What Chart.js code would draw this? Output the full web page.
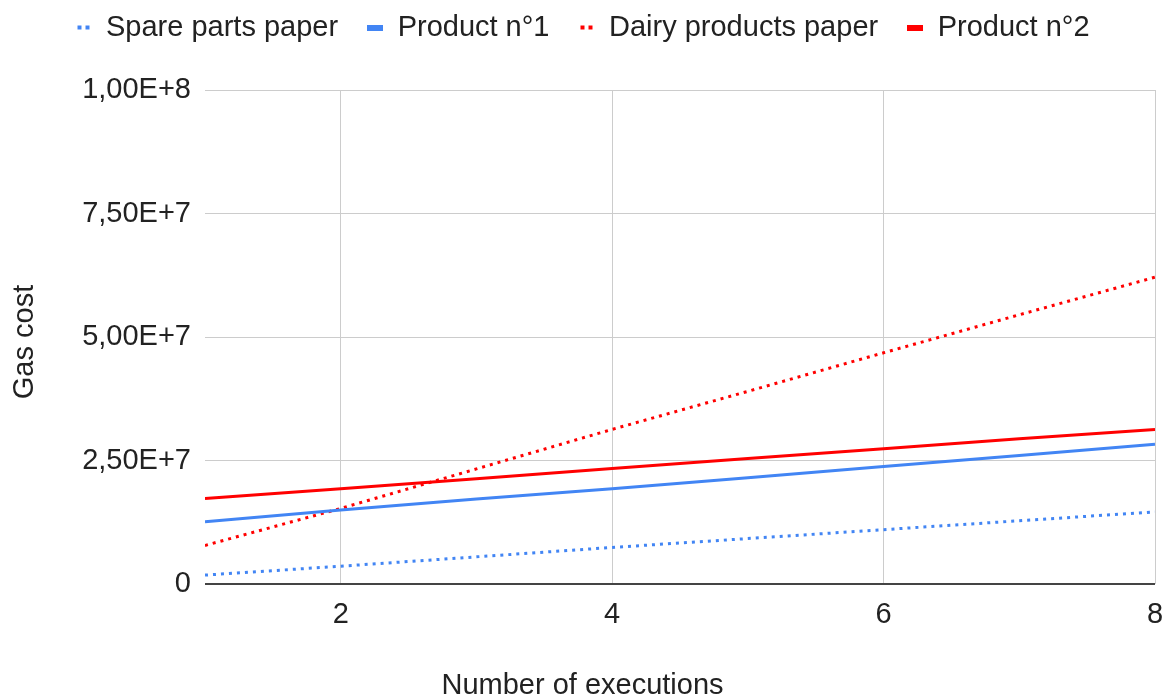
<!DOCTYPE html>
<html>
<head>
<meta charset="utf-8">
<script src="https://cdn.jsdelivr.net/npm/chart.js@4/dist/chart.umd.min.js"></script>
<style>
  body { margin: 0; background: #fff; }
  #wrap { width: 1165px; height: 697px; }
</style>
</head>
<body>
<div id="wrap"><canvas id="chart"></canvas></div>
<script>
// Gas cost per number of executions
const executions = [1, 2, 3, 4, 5, 6, 7, 8];
const sparePartsPaper = [1.8e6, 3.6e6, 5.5e6, 7.4e6, 9.2e6, 1.10e7, 1.28e7, 1.46e7];
const product1 = [1.26e7, 1.50e7, 1.72e7, 1.93e7, 2.15e7, 2.38e7, 2.60e7, 2.83e7];
const dairyProductsPaper = [7.8e6, 1.53e7, 2.33e7, 3.13e7, 3.90e7, 4.68e7, 5.45e7, 6.21e7];
const product2 = [1.73e7, 1.93e7, 2.13e7, 2.34e7, 2.54e7, 2.74e7, 2.94e7, 3.13e7];

const xTicks = [2, 4, 6, 8];
const yTickLabels = ['0', '2,50E+7', '5,00E+7', '7,50E+7', '1,00E+8'];

const BLUE = '#4285f4';
const RED = '#ff0000';
const FONT = "'Liberation Sans', Arial, sans-serif";

// small legend markers: dotted = two squares, solid = short bar
function marker(color, dotted) {
    const c = document.createElement('canvas');
    c.width = 16;
    c.height = 6;
    const ctx = c.getContext('2d');
    ctx.fillStyle = color;
    if (dotted) {
        ctx.fillRect(2, 1, 4, 4);
        ctx.fillRect(10, 1, 4, 4);
    } else {
        ctx.fillRect(0, 0, 16, 6);
    }
    return c;
}

function series(label, values, color, dotted) {
    return {
        label: label,
        data: values.map((v, i) => ({ x: executions[i], y: v })),
        borderColor: color,
        backgroundColor: color,
        borderWidth: 3,
        borderDash: dotted ? [3, 5] : [],
        borderCapStyle: 'butt',
        pointRadius: 0,
        pointStyle: marker(color, dotted),
        tension: 0
    };
}

// push the plot area down below the legend
const legendMargin = {
    id: 'legendMargin',
    beforeInit(chart) {
        const fit = chart.legend.fit;
        chart.legend.fit = function () {
            fit.bind(chart.legend)();
            this.height += 38;
        };
    }
};

new Chart(document.getElementById('chart'), {
    type: 'line',
    data: {
        datasets: [
            series('Spare parts paper', sparePartsPaper, BLUE, true),
            series('Product n°1', product1, BLUE, false),
            series('Dairy products paper', dairyProductsPaper, RED, true),
            series('Product n°2', product2, RED, false)
        ]
    },
    options: {
        responsive: true,
        maintainAspectRatio: false,
        animation: false,
        layout: { padding: { top: -16, right: 10, bottom: -3, left: 10 } },
        plugins: {
            legend: {
                position: 'top',
                labels: {
                    usePointStyle: true,
                    pointStyleWidth: 16,
                    padding: 29,
                    color: '#222',
                    font: { family: FONT, size: 29 }
                }
            },
            title: {
                display: true,
                position: 'bottom',
                text: 'Number of executions',
                color: '#222',
                font: { family: FONT, size: 29, weight: 'normal', lineHeight: 1 },
                padding: { top: 40, bottom: 0 }
            },
            subtitle: {
                display: true,
                position: 'left',
                text: 'Gas cost',
                color: '#222',
                font: { family: FONT, size: 29, lineHeight: 1 },
                padding: { top: 0, bottom: 17 }
            },
            tooltip: { enabled: false }
        },
        scales: {
            x: {
                type: 'linear',
                min: 1,
                max: 8,
                afterBuildTicks: (scale) => {
                    scale.ticks = xTicks.map(v => ({ value: v }));
                },
                afterFit: (scale) => {
                    scale.height = 47;
                    scale.paddingRight = 0;
                },
                grid: { color: '#cccccc', lineWidth: 1, drawTicks: false },
                border: { display: false },
                ticks: {
                    padding: 14,
                    color: '#222',
                    font: { family: FONT, size: 29 },
                    maxRotation: 0
                }
            },
            y: {
                min: 0,
                max: 1e8,
                afterFit: (scale) => { scale.width = 149; },
                grid: {
                    color: (ctx) => ctx.tick && ctx.tick.value === 0 ? '#444444' : '#cccccc',
                    lineWidth: (ctx) => ctx.tick && ctx.tick.value === 0 ? 2 : 1,
                    drawTicks: false
                },
                border: { display: false },
                ticks: {
                    stepSize: 2.5e7,
                    padding: 14,
                    color: '#222',
                    font: { family: FONT, size: 29 },
                    callback: (v, i) => yTickLabels[i]
                }
            }
        }
    },
    plugins: [legendMargin]
});
</script>
</body>
</html>
